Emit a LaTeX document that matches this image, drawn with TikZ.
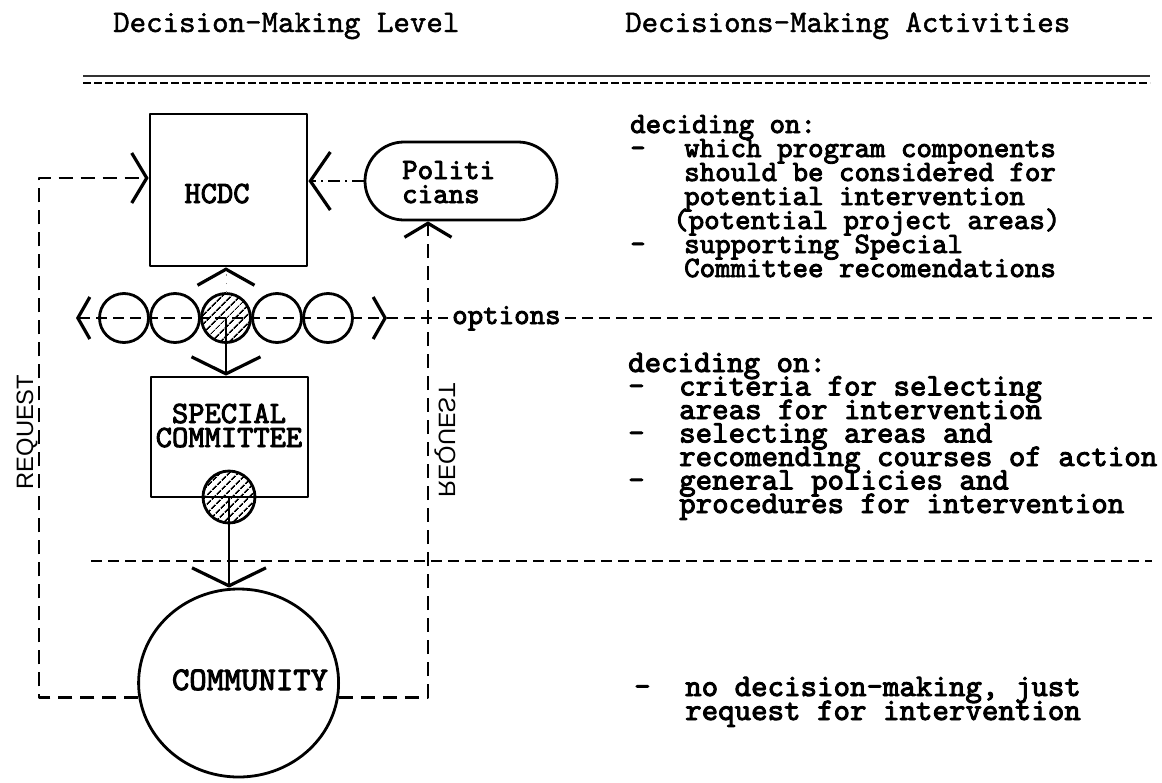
\documentclass[tikz,border=0pt]{standalone}
\usepackage{fontspec}
\newfontfamily\reqfont{Liberation Sans}
\newfontfamily\twheavy{lmmono10-regular.otf}[FakeBold=3]
\newfontfamily\twmedium{lmmono10-regular.otf}[FakeBold=1.5]
\usetikzlibrary{arrows.meta,patterns.meta,shapes.geometric,calc}

% typewriter faces
\newcommand\bodyfont{\twheavy\fontsize{29.5}{24}\selectfont}
\newcommand\widefont{\twheavy\fontsize{31.4}{24}\selectfont}
\newcommand\headfont{\twmedium\fontsize{31.4}{32}\selectfont}
\newcommand\labelfont{\twheavy\fontsize{31}{24}\selectfont}
\newcommand\commfont{\twheavy\fontsize{33}{24}\selectfont}
\newcommand\itemdash{\makebox[54pt][l]{-}}
\newcommand\indentline{\hspace*{54pt}}
\newcommand\itemdashw{\makebox[51pt][l]{-}}
\newcommand\indentlinew{\hspace*{51pt}}

\begin{document}
\begin{tikzpicture}[x=1pt,y=-1pt,line join=round,
  box/.style={draw,rectangle,line width=2.8pt,inner sep=0pt},
  ring/.style={draw,circle,line width=2.8pt,minimum size=49pt,inner sep=0pt},
  hatched/.style={pattern={Lines[angle=45,distance=6.5pt,line width=1.8pt]}},
  sepline/.style={line width=2.8pt,dash pattern=on 11pt off 6pt},
  reqline/.style={line width=2.8pt,dash pattern=on 14pt off 8pt},
  vtip/.style 2 args={-{Straight Barb[length=#1pt,width=#2pt,line width=3.2pt,color=black]}},
  txt/.style={font=\bodyfont,inner sep=0pt,anchor=base west},
  txtw/.style={font=\widefont,inner sep=0pt,anchor=base west},
  head/.style={font=\headfont,inner sep=0pt,anchor=base west},
  lbl/.style={font=\labelfont,inner sep=0pt,anchor=base},
  reqtxt/.style={font=\reqfont\fontsize{23.7}{24}\selectfont,inner sep=0pt}]

\fill[white] (0,0) rectangle (1162,782);
\useasboundingbox (0,0) rectangle (1162,782);

% column headings and double rule
\node[head] (hL) at (113,32) {Decision-Making Level};
\node[head] (hR) at (625,32) {Decisions-Making Activities};
\coordinate (ruleA) at (83,76);  \coordinate (ruleB) at (1150,76);
\coordinate (ruleC) at (83,83);  \coordinate (ruleD) at (1150,83);
\draw[line width=2pt,black!80] (ruleA) -- (ruleB);
\draw[line width=2.6pt,dash pattern=on 8pt off 3pt] (ruleC) -- (ruleD);

% decision-making bodies
\node[box,minimum width=157pt,minimum height=152pt] (hcdc) at (228.5,190) {};
\node[lbl] (hcdcT) at (217,203) {HCDC};
\node[draw,line width=2.8pt,rectangle,rounded corners=39pt,minimum width=192pt,
      minimum height=78pt,inner sep=0pt] (pol) at (461,181) {};
\node[txt] (polA) at (402,179) {Politi};
\node[txt] (polB) at (402,203) {cians};

% row of options
\foreach \n/\cx in {c1/124,c2/175,c4/277,c5/328}
  \node[ring] (\n) at (\cx,318) {};
\node[ring,hatched] (c3) at (226,318) {};

\node[box,minimum width=157pt,minimum height=120pt] (sc) at (229.5,437) {};
\node[lbl] (scA) at (229,423) {SPECIAL};
\node[lbl] (scB) at (229,447) {COMMITTEE};
\node[ring,hatched,minimum size=52pt] (h2) at (229,497) {};

\node[draw,ellipse,line width=2.8pt,minimum width=200pt,minimum height=188pt,
      inner sep=0pt] (comm) at (238.6,683) {};
\node[lbl,font=\commfont] (commT) at (250,690) {COMMUNITY};

% level separators
\coordinate (optL) at (76,318);  \coordinate (optR) at (387,318);
\coordinate (optEnd) at (1152,318);
\node[txt] (opts) at (452,324) {options};
\coordinate (midL) at (91,561);  \coordinate (midR) at (1152,561);

\draw[sepline,{Straight Barb[length=12pt,width=42pt,line width=3.2pt]}-{Straight Barb[length=12pt,width=42pt,line width=3.2pt]}]
  (optL) -- (optR);
\draw[sepline] (optR) -- ($(opts.west |- optR)+(-4,0)$);
\draw[sepline] ($(opts.east |- optR)+(4,0)$) -- (optEnd);
\draw[sepline] (midL) -- (midR);

% request loops
\coordinate (lreq) at (39,178);
\coordinate (rreq) at (428,0);
\draw[reqline,vtip={15}{50}] (comm.188) -- (comm.188 -| lreq) -- (lreq) -- (hcdc.west |- lreq);
\draw[reqline,vtip={14}{47}] (comm.352) -- (comm.352 -| rreq) -- (pol.south -| rreq);
\node[reqtxt,rotate=90] (reqA) at (27,432) {REQUEST};
\node[reqtxt,cm={0,1,1,0,(0,0)}] (reqB) at (445,440) {REQUEST};

% flows between levels
\draw[line width=2pt,dash pattern=on 12pt off 5pt on 2pt off 5pt,vtip={20}{58}]
  (pol.west) -- (pol.west -| hcdc.east);
\draw[line width=1pt,black!45,dash pattern=on 1.5pt off 7pt,vtip={16}{57}]
  (c3.north) -- (c3.north |- hcdc.south);
\draw[line width=2.8pt,vtip={17}{69}] (c3.center) -- (c3.center |- sc.north);
\draw[line width=2.8pt,vtip={18}{74}] (h2.center) -- (h2.center |- comm.north);

% activities at each level
\foreach \t [count=\i] in {
  {deciding on:},
  {\itemdash which program components},
  {\indentline should be considered for},
  {\indentline potential intervention},
  {\hspace*{43pt}(potential project areas)},
  {\itemdash supporting Special},
  {\indentline Committee recomendations}}
  \node[txt] (actA\i) at (630,{133+24*(\i-1)}) {\t};

\foreach \t [count=\i] in {
  {deciding on:},
  {\itemdashw criteria for selecting},
  {\indentlinew areas for intervention},
  {\itemdashw selecting areas and},
  {\indentlinew recomending courses of action},
  {\itemdashw general policies and},
  {\indentlinew procedures for intervention}}
  \node[txtw] (actB\i) at (628,{372+23.5*(\i-1)}) {\t};

\node[txtw] (actC1) at (634,696) {\itemdashw no decision-making, just};
\node[txtw] (actC2) at (634,720) {\indentlinew request for intervention};
\end{tikzpicture}
\end{document}
